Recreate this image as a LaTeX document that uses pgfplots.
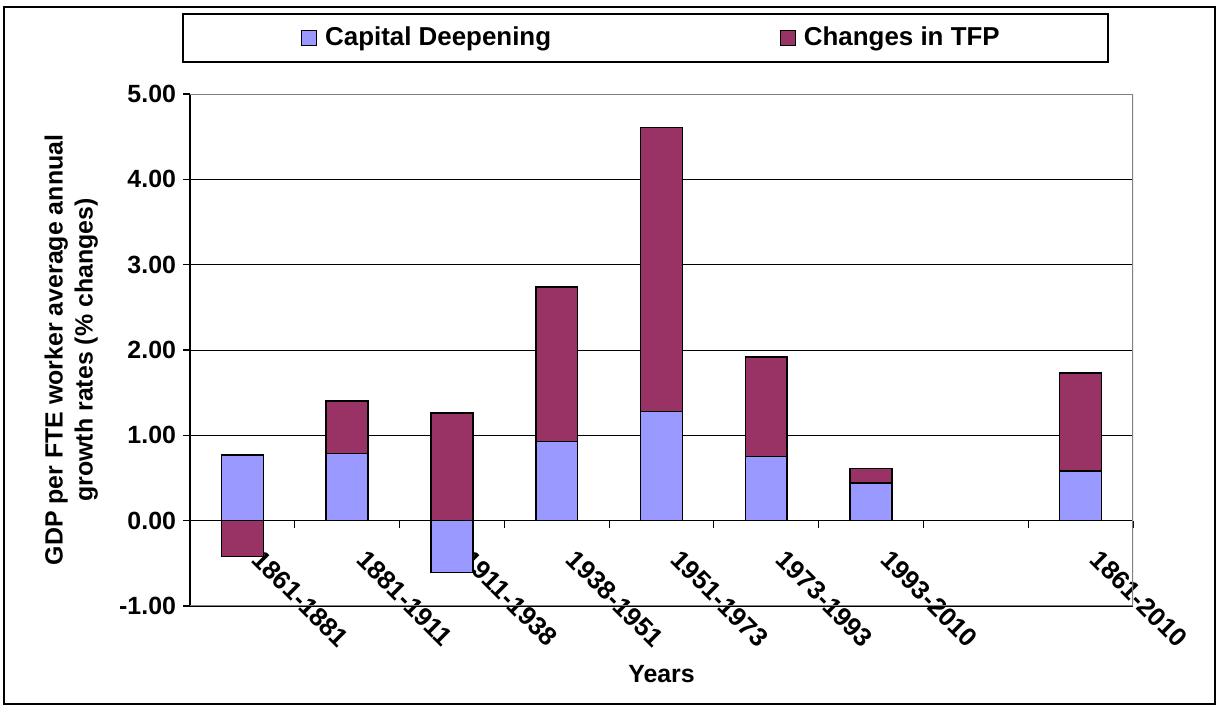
\documentclass[border=0pt]{standalone}
\usepackage{fontspec}
\setmainfont{Liberation Sans}
\usepackage{pgfplots}
\pgfplotsset{compat=1.18}

\definecolor{capdeep}{HTML}{9999FF}
\definecolor{tfp}{HTML}{993366}
\newcommand{\chartfont}{\fontsize{12.5}{15}\selectfont\bfseries}
\newcommand{\legfont}{\fontsize{13}{15}\selectfont\bfseries}

\begin{document}
\begin{tikzpicture}
\useasboundingbox (0,0) rectangle (609.5bp,354.5bp);
% outer chart frame and legend box
\draw[line width=1.2bp] (2bp,2.5bp) rectangle (607.5bp,351bp);
\draw[line width=0.8bp] (91.5bp,323.5bp) rectangle (554bp,347.5bp);
\begin{axis}[
    at={(95bp,51.5bp)}, anchor=south west,
    scale only axis,
    width=471.5bp, height=256bp,
    ybar stacked,
    stack negative=separate,
    bar width=0.4,
    xmin=0.5, xmax=9.5,
    ymin=-1, ymax=5,
    axis x line=middle,
    axis y line=left,
    axis line style={-, black, line width=0.6bp},
    tick align=outside,
    xtick={1,...,9},
    xticklabels={1861-1881,1881-1911,1911-1938,1938-1951,1951-1973,1973-1993,1993-2010,,1861-2010},
    minor xtick={0.5,1.5,...,9.5},
    major x tick style={draw=none},
    minor tick length=3.5bp,
    major tick length=3.5bp,
    tick style={black, line width=0.6bp},
    ytick={-1,0,...,5},
    ymajorgrids=true,
    grid style={black, line width=0.5bp},
    /pgf/number format/assume math mode=true,
    yticklabel={\pgfmathprintnumber[fixed,fixed zerofill,precision=2]{\tick}},
    tick label style={font=\chartfont},
    xticklabel style={font=\legfont, xshift=10.5bp, yshift=-5.5bp, rotate=-45, anchor=north west},
    xlabel={Years},
    ylabel={GDP per FTE worker average annual\\growth rates (\% changes)},
    label style={font=\chartfont},
    xlabel style={at={(rel axis cs:0.5,-0.133)}, anchor=center},
    ylabel style={at={(rel axis cs:-0.126,0.5)}, anchor=center, align=center, rotate=0},
    legend columns=2,
    legend style={at={(rel axis cs:0.4902,1.1094)}, anchor=center,
        draw=none, fill=none, font=\legfont,
        /tikz/every even column/.append style={column sep=112.25bp}},
    legend image code/.code={\draw[#1, draw=black, line width=0.6bp] (0bp,-3.75bp) rectangle (7.5bp,3.75bp); \path (9.5bp,0bp);},
]
\addplot[fill=capdeep, draw=black, line width=0.75bp] coordinates {
    (1,0.77) (2,0.79) (3,-0.61) (4,0.93) (5,1.28) (6,0.75) (7,0.44) (9,0.58)
};
\addplot[fill=tfp, draw=black, line width=0.75bp] coordinates {
    (1,-0.42) (2,0.61) (3,1.26) (4,1.81) (5,3.33) (6,1.17) (7,0.17) (9,1.15)
};
\legend{Capital Deepening, Changes in TFP}
% grey plot-area border (top, right, bottom)
\draw[gray, line width=0.8bp] (rel axis cs:0,0) -- (rel axis cs:1,0) -- (rel axis cs:1,1) -- (rel axis cs:0,1);
\end{axis}
\end{tikzpicture}
\end{document}
